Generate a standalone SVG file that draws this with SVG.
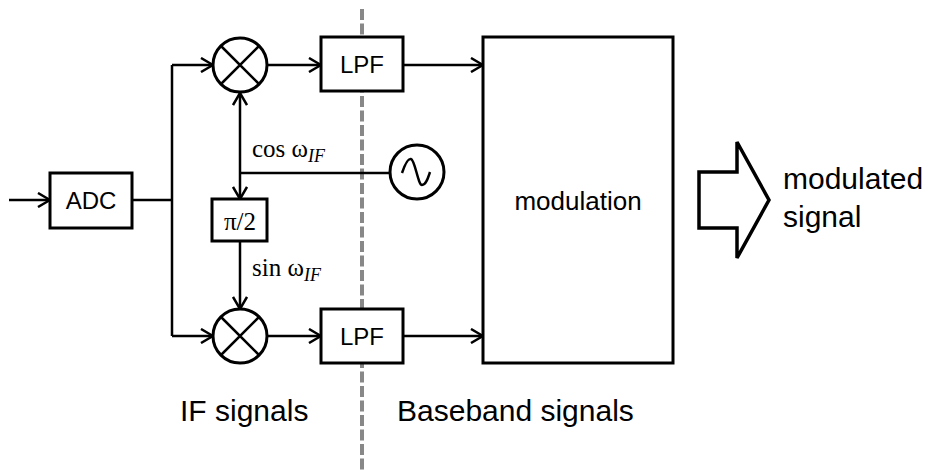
<svg xmlns="http://www.w3.org/2000/svg" width="933" height="471" viewBox="0 0 933 471">
<defs>
<marker id="arr" viewBox="0 0 14 16" refX="13" refY="8" markerWidth="14" markerHeight="16" markerUnits="userSpaceOnUse" orient="auto">
<path d="M1,1 L13,8 L1,15" fill="none" stroke="#000" stroke-width="2.5"/>
</marker>
<style>
.ln{fill:none;stroke:#000;stroke-width:2.5}
.bx{fill:#fff;stroke:#000;stroke-width:3}
.sans{font-family:"Liberation Sans",Arial,sans-serif;fill:#000}
.serif{font-family:"Liberation Serif","Times New Roman",serif;fill:#000}
</style>
</defs>
<rect width="933" height="471" fill="#fff"/>
<line id="divider" x1="362" y1="9" x2="362" y2="471" stroke="#888" stroke-width="4" stroke-dasharray="11,3.5"/>
<g id="connectors">
<path class="ln" d="M9,200 H50" marker-end="url(#arr)"/>
<path class="ln" d="M132,200 H172"/>
<path class="ln" d="M172,65 V336"/>
<path class="ln" d="M172,65 H213" marker-end="url(#arr)"/>
<path class="ln" d="M172,336 H213" marker-end="url(#arr)"/>
<path class="ln" d="M267,65 H321" marker-end="url(#arr)"/>
<path class="ln" d="M267,336 H321" marker-end="url(#arr)"/>
<path class="ln" d="M403,65 H483" marker-end="url(#arr)"/>
<path class="ln" d="M403,336 H483" marker-end="url(#arr)"/>
<path class="ln" d="M240,173 V93" marker-end="url(#arr)"/>
<path class="ln" d="M240,173 V199" marker-end="url(#arr)"/>
<path class="ln" d="M240,173 H390"/>
<path class="ln" d="M240,241 V309" marker-end="url(#arr)"/>
</g>
<g id="adc">
<rect class="bx" x="50" y="173" width="82" height="55"/>
<text class="sans" x="91" y="209" font-size="24" text-anchor="middle">ADC</text>
</g>
<g id="mixer-top">
<circle class="bx" cx="240" cy="65" r="27"/>
<path class="ln" d="M221,46 L259,84 M259,46 L221,84"/>
</g>
<g id="mixer-bottom">
<circle class="bx" cx="240" cy="336" r="27"/>
<path class="ln" d="M221,317 L259,355 M259,317 L221,355"/>
</g>
<g id="lpf-top">
<rect class="bx" x="321" y="37" width="82" height="54"/>
<text class="sans" x="362" y="73" font-size="24" text-anchor="middle">LPF</text>
</g>
<g id="lpf-bottom">
<rect class="bx" x="321" y="309" width="82" height="54"/>
<text class="sans" x="362" y="345" font-size="24" text-anchor="middle">LPF</text>
</g>
<g id="phase">
<rect class="bx" x="212" y="199" width="55" height="42"/>
<text class="serif" x="240" y="230" font-size="25" text-anchor="middle">π/2</text>
</g>
<g id="oscillator">
<circle class="bx" cx="417" cy="172" r="27"/>
<path class="ln" d="M402,173 C405,164 408,158 411,159 C415,160 418,185 422,185 C426,185 428,178 430,172"/>
</g>
<g id="modulation">
<rect class="bx" x="483" y="37" width="190" height="326"/>
<text class="sans" x="578" y="210" font-size="26" text-anchor="middle">modulation</text>
</g>
<g id="output-arrow">
<polygon points="699,172 737,172 737,142 769,200 737,258 737,228 699,228" fill="#fff" stroke="#000" stroke-width="3.5"/>
</g>
<g id="labels">
<text class="serif" x="252" y="157" font-size="25">cos ω<tspan font-style="italic" font-size="18" dy="5">IF</tspan></text>
<text class="serif" x="252" y="276" font-size="25">sin ω<tspan font-style="italic" font-size="18" dy="5">IF</tspan></text>
<text class="sans" x="180" y="421" font-size="30">IF signals</text>
<text class="sans" x="397" y="421" font-size="30">Baseband signals</text>
<text class="sans" x="783" y="189" font-size="30">modulated</text>
<text class="sans" x="783" y="227" font-size="30">signal</text>
</g>
</svg>
